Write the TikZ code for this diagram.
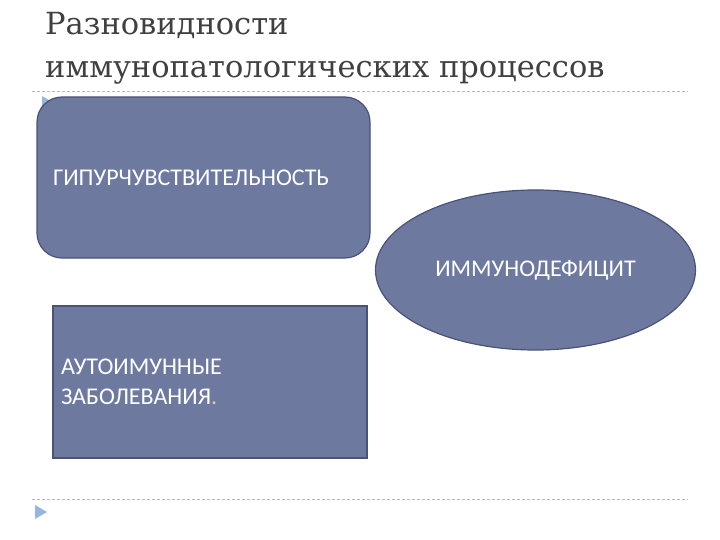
\documentclass[tikz,border=0pt]{standalone}
\usepackage{fontspec}
\setmainfont{DejaVu Serif}
\newfontfamily\boxfont{Carlito}
\usetikzlibrary{shapes.geometric}
\definecolor{boxblue}{HTML}{6E79A0}
\definecolor{boxedge}{HTML}{4A5276}
\definecolor{bulletblue}{HTML}{93B7DD}
\definecolor{titlegray}{HTML}{404040}
\tikzset{
  shape box/.style = {fill=boxblue, draw=boxedge, line width=1.2pt, text=white,
    font=\boxfont\fontsize{24}{30}\selectfont},
  title line/.style = {anchor = base west, inner sep=0, text=titlegray,
    font=\fontsize{30.5}{36}\selectfont},
  rule line/.style = {draw=gray!55, line width=0.6pt, dash pattern=on 3pt off 2pt},
  bullet mark/.style = {fill=bulletblue}
}
\begin{document}
\begin{tikzpicture}[x=1pt,y=-1pt]
    \useasboundingbox (0,0) rectangle (720,540);
    \node[title line] (title1) at (45,35) {Разновидности};
    \node[title line] (title2) at (45,78) {иммунопатологических процессов};
    \draw[rule line] (32,91) -- (688,91);
    \draw[rule line] (32,499) -- (688,499);
    \fill[bullet mark] (42,96) -- (54,103) -- (42,110) -- cycle;
    \fill[bullet mark] (35,505) -- (47,512) -- (35,519) -- cycle;
    \node[shape box, rounded corners=25pt, minimum width=333, minimum height=161,
          text width=301, inner xsep=16, align=left] (hyper) at (203.5,177.5)
          {ГИПУРЧУВСТВИТЕЛЬНОСТЬ};
    \node[shape box, ellipse, minimum width=320, minimum height=160] (immuno)
          at (535.5,270) {ИММУНОДЕФИЦИТ};
    \node[shape box, rectangle, minimum width=314, minimum height=152,
          text width=298, inner xsep=8, align=left] (auto) at (210,382)
          {АУТОИМУННЫЕ\\ЗАБОЛЕВАНИЯ{\color{white!80!black}.}};
\end{tikzpicture}
\end{document}
